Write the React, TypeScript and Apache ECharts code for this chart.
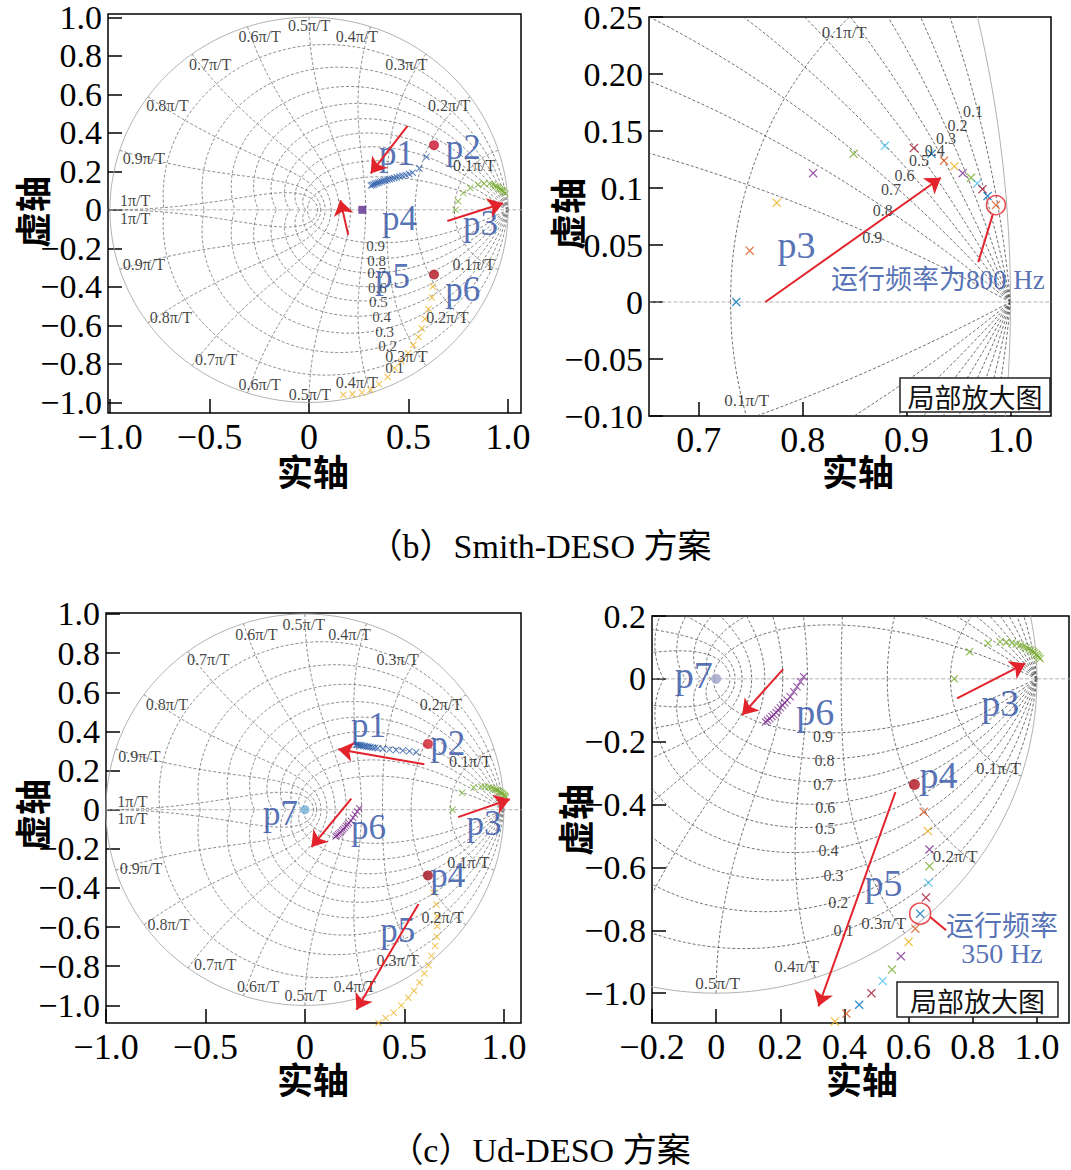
import React, { useEffect, useRef } from 'react';
import * as echarts from 'echarts';

// ---------------- data ----------------
const MATLAB_COLORS = ['#0072BD', '#D95319', '#EDB120', '#7E2F8E', '#77AC30', '#4DBEEE', '#A2142F'];

// z-grid parameters (damping ratios, natural frequencies in multiples of pi/T)
const ZETA_VALUES = [0.1, 0.2, 0.3, 0.4, 0.5, 0.6, 0.7, 0.8, 0.9];
const WN_MULTIPLES = [0.1, 0.2, 0.3, 0.4, 0.5, 0.6, 0.7, 0.8, 0.9, 1.0];

// (b) Smith-DESO
const B_P1 = [
  [0.311, 0.126], [0.318, 0.129], [0.325, 0.132], [0.332, 0.135], [0.34, 0.138], [0.348, 0.141],
  [0.356, 0.144], [0.365, 0.147], [0.374, 0.15], [0.384, 0.153], [0.394, 0.156], [0.405, 0.159],
  [0.416, 0.162], [0.428, 0.165], [0.441, 0.169], [0.455, 0.173], [0.47, 0.177], [0.486, 0.181],
  [0.503, 0.186], [0.52, 0.193], [0.554, 0.215], [0.59, 0.275],
];
const B_P2 = [[0.628, 0.336]];
const B_P3 = [
  [0.736, 0.0], [0.749, 0.045], [0.775, 0.087], [0.81, 0.113], [0.849, 0.13], [0.879, 0.137],
  [0.907, 0.135], [0.924, 0.13], [0.936, 0.124], [0.946, 0.119], [0.954, 0.113], [0.962, 0.109],
  [0.968, 0.104], [0.973, 0.099], [0.978, 0.093], [0.986, 0.085],
];
const B_P4 = [[0.268, 0.0]];
const B_P5 = [
  [0.622, -0.398], [0.617, -0.455], [0.6, -0.515], [0.583, -0.567], [0.566, -0.616], [0.55, -0.66],
  [0.524, -0.702], [0.498, -0.745], [0.464, -0.787], [0.43, -0.822], [0.395, -0.868], [0.352, -0.905],
  [0.309, -0.935], [0.266, -0.949], [0.218, -0.956], [0.172, -0.96],
];
const B_P6 = [[0.628, -0.336]];
const B_RUN_POINT = [[0.986, 0.085]];

// (c) Ud-DESO
const C_P1 = [
  [0.559, 0.294], [0.525, 0.299], [0.492, 0.302], [0.458, 0.305], [0.425, 0.307], [0.391, 0.31],
  [0.366, 0.314], [0.352, 0.316], [0.34, 0.318], [0.329, 0.32], [0.319, 0.322], [0.31, 0.323],
  [0.301, 0.325], [0.293, 0.326], [0.285, 0.328], [0.278, 0.329], [0.271, 0.33], [0.264, 0.331],
  [0.257, 0.332],
];
const C_P2 = [[0.618, 0.336]];
const C_P3 = [
  [0.742, 0.0], [0.79, 0.086], [0.848, 0.113], [0.885, 0.118], [0.905, 0.117], [0.922, 0.114],
  [0.936, 0.111], [0.948, 0.107], [0.958, 0.103], [0.967, 0.099], [0.975, 0.095], [0.982, 0.091],
  [0.988, 0.087], [0.993, 0.083], [0.998, 0.078], [1.002, 0.074], [1.006, 0.069], [1.01, 0.064],
];
const C_P4 = [[0.618, -0.336]];
const C_P5 = [
  [0.647, -0.423], [0.66, -0.484], [0.665, -0.543], [0.665, -0.596], [0.662, -0.649], [0.654, -0.696],
  [0.636, -0.747], [0.621, -0.795], [0.6, -0.837], [0.576, -0.883], [0.548, -0.925], [0.519, -0.961],
  [0.484, -1.0], [0.446, -1.037], [0.406, -1.065], [0.37, -1.09],
];
const C_P6 = [
  [0.273, 0.007], [0.263, -0.009], [0.252, -0.025], [0.242, -0.041], [0.231, -0.057], [0.221, -0.068],
  [0.214, -0.076], [0.207, -0.084], [0.2, -0.092], [0.193, -0.1], [0.187, -0.107], [0.18, -0.114],
  [0.174, -0.12], [0.167, -0.126], [0.16, -0.132], [0.154, -0.137],
];
const C_P7 = [[0.0, 0.0]];
const C_RUN_POINT = [[0.636, -0.747]];

// tick values and labels
const FULL_X_TICKS = [-1, -0.5, 0, 0.5, 1];
const FULL_X_LABELS = ['−1.0', '−0.5', '0', '0.5', '1.0'];
const FULL_Y_TICKS = [1, 0.8, 0.6, 0.4, 0.2, 0, -0.2, -0.4, -0.6, -0.8, -1];
const FULL_Y_LABELS = ['1.0', '0.8', '0.6', '0.4', '0.2', '0', '−0.2', '−0.4', '−0.6', '−0.8', '−1.0'];
const B_ZOOM_X_TICKS = [0.7, 0.8, 0.9, 1.0];
const B_ZOOM_X_LABELS = ['0.7', '0.8', '0.9', '1.0'];
const B_ZOOM_Y_TICKS = [0.25, 0.2, 0.15, 0.1, 0.05, 0, -0.05, -0.1];
const B_ZOOM_Y_LABELS = ['0.25', '0.20', '0.15', '0.1', '0.05', '0', '−0.05', '−0.10'];
const C_ZOOM_X_TICKS = [-0.2, 0, 0.2, 0.4, 0.6, 0.8, 1.0];
const C_ZOOM_X_LABELS = ['−0.2', '0', '0.2', '0.4', '0.6', '0.8', '1.0'];
const C_ZOOM_Y_TICKS = [0.2, 0, -0.2, -0.4, -0.6, -0.8, -1.0];
const C_ZOOM_Y_LABELS = ['0.2', '0', '−0.2', '−0.4', '−0.6', '−0.8', '−1.0'];

// ---------------- annotations (text, x, y in data units) ----------------
const B_WN_LABELS: [string, number, number][] = [
  ['0.5π/T', 0.0, 0.955], ['0.4π/T', 0.24, 0.9], ['0.6π/T', -0.248, 0.9], ['0.3π/T', 0.489, 0.757],
  ['0.7π/T', -0.497, 0.757], ['0.2π/T', 0.704, 0.54], ['0.8π/T', -0.711, 0.54], ['0.1π/T', 0.829, 0.232],
  ['0.9π/T', -0.83, 0.265], ['1π/T', -0.874, 0.047], ['1π/T', -0.874, -0.047], ['0.9π/T', -0.83, -0.285],
  ['0.1π/T', 0.827, -0.285], ['0.8π/T', -0.694, -0.557], ['0.2π/T', 0.695, -0.557], ['0.7π/T', -0.467, -0.779],
  ['0.3π/T', 0.489, -0.762], ['0.6π/T', -0.248, -0.906], ['0.5π/T', 0.004, -0.957], ['0.4π/T', 0.24, -0.898],
];
const B_ZETA_LABELS: [string, number, number][] = [
  ['0.9', 0.335, -0.19], ['0.8', 0.34, -0.265], ['0.7', 0.34, -0.33], ['0.6', 0.343, -0.405],
  ['0.5', 0.348, -0.478], ['0.4', 0.365, -0.558], ['0.3', 0.38, -0.632], ['0.2', 0.395, -0.705],
  ['0.1', 0.43, -0.823],
];
const B_TAGS: [string, number, number][] = [
  ['p1', 0.44, 0.29], ['p2', 0.775, 0.325], ['p4', 0.455, -0.047], ['p3', 0.862, -0.072],
  ['p5', 0.42, -0.345], ['p6', 0.772, -0.413],
];
const B_ARROWS = [[0.495, 0.436, 0.31, 0.189], [0.197, -0.13, 0.157, 0.05], [0.695, -0.058, 0.975, 0.034]];

const BZ_ZETA_LABELS: [string, number, number][] = [
  ['0.1', 0.964, 0.167], ['0.2', 0.949, 0.155], ['0.3', 0.938, 0.143], ['0.4', 0.927, 0.133],
  ['0.5', 0.912, 0.124], ['0.6', 0.898, 0.111], ['0.7', 0.885, 0.099], ['0.8', 0.877, 0.08], ['0.9', 0.867, 0.057],
];
const BZ_WN_LABELS: [string, number, number][] = [['0.1π/T', 0.84, 0.236], ['0.1π/T', 0.746, -0.086]];
const BZ_TAGS: [string, number, number][] = [['p3', 0.794, 0.05]];
const BZ_NOTE: [string, number, number][] = [['运行频率为800 Hz', 0.93, 0.019]];
const BZ_ARROWS = [[0.764, 0.0, 0.933, 0.109]];
const BZ_LINKS = [[0.969, 0.035, 0.983, 0.077]];

const C_WN_LABELS: [string, number, number][] = [
  ['0.5π/T', -0.006, 0.945], ['0.6π/T', -0.244, 0.894], ['0.4π/T', 0.224, 0.894], ['0.7π/T', -0.486, 0.766],
  ['0.3π/T', 0.466, 0.766], ['0.8π/T', -0.694, 0.535], ['0.2π/T', 0.683, 0.535], ['0.9π/T', -0.832, 0.27],
  ['0.1π/T', 0.83, 0.248], ['1π/T', -0.867, 0.043], ['1π/T', -0.867, -0.046], ['0.9π/T', -0.824, -0.303],
  ['0.1π/T', 0.822, -0.268], ['0.8π/T', -0.685, -0.585], ['0.2π/T', 0.692, -0.55], ['0.7π/T', -0.451, -0.79],
  ['0.3π/T', 0.466, -0.773], ['0.6π/T', -0.235, -0.901], ['0.5π/T', 0.004, -0.949], ['0.4π/T', 0.25, -0.901],
];
const C_TAGS: [string, number, number][] = [
  ['p1', 0.319, 0.432], ['p2', 0.718, 0.338], ['p3', 0.9, -0.072], ['p7', -0.123, -0.02],
  ['p6', 0.319, -0.089], ['p4', 0.718, -0.337], ['p5', 0.467, -0.619],
];
const C_ARROWS = [
  [0.6, 0.232, 0.167, 0.309], [0.77, -0.038, 1.03, 0.053], [0.233, 0.056, 0.033, -0.191], [0.571, -0.482, 0.259, -1.022],
];

const CZ_ZETA_LABELS: [string, number, number][] = [
  ['0.9', 0.333, -0.182], ['0.8', 0.338, -0.261], ['0.7', 0.334, -0.335], ['0.6', 0.34, -0.409],
  ['0.5', 0.34, -0.477], ['0.4', 0.35, -0.546], ['0.3', 0.366, -0.625], ['0.2', 0.381, -0.71], ['0.1', 0.397, -0.8],
];
const CZ_WN_LABELS: [string, number, number][] = [
  ['0.1π/T', 0.88, -0.284], ['0.2π/T', 0.745, -0.565], ['0.3π/T', 0.522, -0.778], ['0.4π/T', 0.251, -0.916],
  ['0.5π/T', 0.005, -0.968],
];
const CZ_TAGS: [string, number, number][] = [
  ['p7', -0.07, 0.012], ['p6', 0.309, -0.105], ['p3', 0.886, -0.078], ['p4', 0.693, -0.306], ['p5', 0.522, -0.651],
];
const CZ_NOTE: [string, number, number][] = [['运行频率', 0.891, -0.789], ['350 Hz', 0.891, -0.874]];
const CZ_ARROWS = [[0.209, 0.031, 0.081, -0.115], [0.751, -0.062, 0.964, 0.049], [0.559, -0.36, 0.319, -1.042]];
const CZ_LINKS = [[0.667, -0.758, 0.717, -0.8]];

// ---------------- helpers ----------------
const SERIF = '"Liberation Serif", "Times New Roman", serif';
const MIXED = '"Liberation Serif", "Noto Sans CJK SC", serif';
const TAG_BLUE = '#2B4EA2';
const RED = '#E3232C';
const X_SYMBOL = 'path://M0,1L1,0L5,4L9,0L10,1L6,5L10,9L9,10L5,6L1,10L0,9L4,5Z';

function zetaCurve(zeta: number, sgn: number) {
  const k = zeta / Math.sqrt(1 - zeta * zeta);
  const pts: number[][] = [];
  const N = 360;
  for (let i = 0; i <= N; i++) {
    const th = (Math.PI * i) / N;
    const r = Math.exp(-k * th);
    pts.push([r * Math.cos(th), sgn * r * Math.sin(th)]);
  }
  return pts;
}
function wnCurve(wn: number, sgn: number) {
  const pts: number[][] = [];
  const N = 200;
  for (let i = 0; i <= N; i++) {
    const z = i / N;
    const r = Math.exp(-z * wn);
    const th = wn * Math.sqrt(1 - z * z);
    pts.push([r * Math.cos(th), sgn * r * Math.sin(th)]);
  }
  return pts;
}
function unitCircle() {
  const pts: number[][] = [];
  for (let i = 0; i <= 400; i++) {
    const th = (2 * Math.PI * i) / 400;
    pts.push([Math.cos(th), Math.sin(th)]);
  }
  return pts;
}

function zgridSeries(g: number, color: string) {
  const base = {
    type: 'line', xAxisIndex: g, yAxisIndex: g, showSymbol: false, symbol: 'none',
    silent: true, clip: true, z: 1,
  };
  const dashed = { color, width: 0.8, type: [3, 2] };
  const out: any[] = [];
  for (const z of ZETA_VALUES) for (const s of [1, -1]) out.push({ ...base, data: zetaCurve(z, s), lineStyle: dashed });
  for (const w of WN_MULTIPLES) for (const s of [1, -1]) out.push({ ...base, data: wnCurve(w * Math.PI, s), lineStyle: dashed });
  out.push({ ...base, data: unitCircle(), lineStyle: { color: '#a8a8a8', width: 0.9 } });
  out.push({ ...base, data: [[-1.3, 0], [1.3, 0]], lineStyle: { color: '#a8a8a8', width: 0.9, type: [4, 2] } });
  return out;
}

function markers(g: number, pts: number[][], color: string | null, size: number, symbol = X_SYMBOL, colorOffset = 0) {
  return {
    type: 'scatter', xAxisIndex: g, yAxisIndex: g, silent: true, z: 4, symbol, symbolSize: size,
    data: pts.map((p, i) => ({
      value: p,
      itemStyle: { color: color || MATLAB_COLORS[(i + colorOffset) % MATLAB_COLORS.length] },
    })),
  };
}

function texts(g: number, items: [string, number, number][], fontSize: number, color: string, family: string) {
  return {
    type: 'scatter', xAxisIndex: g, yAxisIndex: g, silent: true, z: 5, symbolSize: 1,
    itemStyle: { color: 'rgba(0,0,0,0)' },
    data: items.map(([t, x, y]) => ({ name: t, value: [x, y] })),
    label: { show: true, position: 'inside', formatter: '{b}', fontSize, lineHeight: fontSize, color, fontFamily: family },
  };
}

function arrows(g: number, segs: number[][], head: boolean) {
  return {
    type: 'lines', coordinateSystem: 'cartesian2d', xAxisIndex: g, yAxisIndex: g, silent: true, z: 6,
    symbol: head ? ['none', 'arrow'] : ['none', 'none'], symbolSize: 15,
    lineStyle: { color: RED, width: 2, opacity: 1, curveness: 0 },
    data: segs.map((s) => ({ coords: [[s[0], s[1]], [s[2], s[3]]] })),
  };
}

function ring(g: number, pts: number[][], size: number) {
  return {
    type: 'scatter', xAxisIndex: g, yAxisIndex: g, silent: true, z: 6, symbol: 'circle', symbolSize: size,
    itemStyle: { color: 'rgba(0,0,0,0)', borderColor: RED, borderWidth: 1.6 },
    data: pts,
  };
}

function lookup(ticks: number[], labels: string[]) {
  return (v: number) => {
    for (let i = 0; i < ticks.length; i++) if (Math.abs(ticks[i] - v) < 1e-6) return labels[i];
    return '';
  };
}

function axis(g: number, min: number, max: number, ticks: number[], labels: string[], position: string, fontSize: number) {
  return {
    type: 'value', gridIndex: g, min, max, scale: true, position,
    axisLine: { show: false, onZero: false }, splitLine: { show: false },
    axisTick: { show: true, inside: true, length: 14, customValues: ticks, lineStyle: { color: '#000', width: 1.5 } },
    axisLabel: {
      customValues: ticks, formatter: lookup(ticks, labels), margin: 6,
      fontFamily: SERIF, fontSize, lineHeight: fontSize, color: '#000',
    },
  };
}

function gtext(text: string, x: number, y: number, font: string, rotation = 0, fill = '#000') {
  return {
    type: 'text', x, y, rotation, silent: true, z: 10,
    style: { text, font, fill, align: 'center', verticalAlign: 'middle', textAlign: 'center', textVerticalAlign: 'middle' },
  };
}

function legendBox(x: number, y: number, w: number, h: number) {
  return [
    { type: 'rect', shape: { x, y, width: w, height: h }, style: { fill: '#fff', stroke: '#222', lineWidth: 1.5 }, z: 20, silent: true },
    {
      type: 'text', x: x + w / 2, y: y + h / 2 + 1, z: 21, silent: true,
      style: { text: '局部放大图', font: '27px "Noto Sans CJK SC"', fill: '#111', align: 'center', verticalAlign: 'middle', textAlign: 'center', textVerticalAlign: 'middle' },
    },
  ];
}

export default function App() {
  const ref = useRef<HTMLDivElement>(null);
  useEffect(() => {
    document.body.style.margin = '0';
    const chart = echarts.init(ref.current!, null, { renderer: 'svg' });
    const gridStyle = { show: true, borderColor: '#000', borderWidth: 1.5, backgroundColor: 'transparent' };
    const AXIS_FONT = 'bold 36px "Noto Sans CJK SC"';
    const CAPTION_FONT = '34px "Liberation Serif", "Noto Sans CJK SC"';
    const option: any = {
      animation: false,
      backgroundColor: '#fff',
      grid: [
        { left: 108, top: 14, width: 413, height: 399, ...gridStyle },
        { left: 649, top: 17, width: 402, height: 399, ...gridStyle },
        { left: 106, top: 613, width: 415, height: 410, ...gridStyle },
        { left: 652, top: 616, width: 417, height: 407, ...gridStyle },
      ],
      xAxis: [
        axis(0, -1.01, 1.065, FULL_X_TICKS, FULL_X_LABELS, 'bottom', 36),
        axis(1, 0.652, 1.039, B_ZOOM_X_TICKS, B_ZOOM_X_LABELS, 'bottom', 36),
        axis(2, -1.0, 1.086, FULL_X_TICKS, FULL_X_LABELS, 'bottom', 36),
        axis(3, -0.2, 1.1, C_ZOOM_X_TICKS, C_ZOOM_X_LABELS, 'bottom', 36),
      ],
      yAxis: [
        axis(0, -1.055, 1.017, FULL_Y_TICKS, FULL_Y_LABELS, 'left', 34),
        axis(1, -0.1, 0.25, B_ZOOM_Y_TICKS, B_ZOOM_Y_LABELS, 'left', 34),
        axis(2, -1.09, 1.005, FULL_Y_TICKS, FULL_Y_LABELS, 'left', 34),
        axis(3, -1.095, 0.2, C_ZOOM_Y_TICKS, C_ZOOM_Y_LABELS, 'left', 34),
      ],
      series: [
        // ---- (b) full view ----
        ...zgridSeries(0, '#6a6a6a'),
        markers(0, B_P1, '#2A5CAA', 7),
        markers(0, B_P3, '#77AC30', 7),
        markers(0, B_P5, '#EDB120', 7),
        markers(0, B_P2, '#C8102E', 10, 'circle'),
        markers(0, B_P6, '#B0101E', 10, 'circle'),
        markers(0, B_P4, '#5B2C8F', 8, 'rect'),
        arrows(0, B_ARROWS, true),
        texts(0, B_WN_LABELS, 16, '#111', SERIF),
        texts(0, B_ZETA_LABELS, 15, '#111', SERIF),
        texts(0, B_TAGS, 35, TAG_BLUE, SERIF),
        // ---- (b) zoom ----
        ...zgridSeries(1, '#4a4a4a'),
        markers(1, B_P3, null, 9),
        ring(1, B_RUN_POINT, 19),
        arrows(1, BZ_ARROWS, true),
        arrows(1, BZ_LINKS, false),
        texts(1, BZ_ZETA_LABELS, 16, '#111', SERIF),
        texts(1, BZ_WN_LABELS, 17, '#111', SERIF),
        texts(1, BZ_TAGS, 38, TAG_BLUE, SERIF),
        texts(1, BZ_NOTE, 27, TAG_BLUE, MIXED),
        // ---- (c) full view ----
        ...zgridSeries(2, '#6a6a6a'),
        markers(2, C_P1, '#2A5CAA', 7),
        markers(2, C_P3, '#77AC30', 7),
        markers(2, C_P5, '#EDB120', 7),
        markers(2, C_P6, '#7E2F8E', 7),
        markers(2, C_P2, '#D01C2C', 10, 'circle'),
        markers(2, C_P4, '#A50F1E', 10, 'circle'),
        markers(2, C_P7, '#6FAFD8', 9, 'circle'),
        arrows(2, C_ARROWS, true),
        texts(2, C_WN_LABELS, 16, '#111', SERIF),
        texts(2, C_TAGS, 35, TAG_BLUE, SERIF),
        // ---- (c) zoom ----
        ...zgridSeries(3, '#4a4a4a'),
        markers(3, C_P3, '#77AC30', 8),
        markers(3, C_P6, '#7E2F8E', 8),
        markers(3, C_P5, null, 9, X_SYMBOL, 1),
        markers(3, C_P4, '#B0101E', 11, 'circle'),
        markers(3, C_P7, '#A0A0C8', 10, 'circle'),
        ring(3, C_RUN_POINT, 21),
        arrows(3, CZ_ARROWS, true),
        arrows(3, CZ_LINKS, false),
        texts(3, CZ_ZETA_LABELS, 16, '#111', SERIF),
        texts(3, CZ_WN_LABELS, 17, '#111', SERIF),
        texts(3, CZ_TAGS, 38, TAG_BLUE, SERIF),
        texts(3, CZ_NOTE, 28, TAG_BLUE, MIXED),
      ],
      graphic: [
        gtext('实轴', 313, 470, AXIS_FONT),
        gtext('实轴', 858, 470, AXIS_FONT),
        gtext('实轴', 313, 1078, AXIS_FONT),
        gtext('实轴', 862, 1078, AXIS_FONT),
        gtext('虚轴', 31, 212, AXIS_FONT, Math.PI / 2),
        gtext('虚轴', 566, 214, AXIS_FONT, Math.PI / 2),
        gtext('虚轴', 31, 815, AXIS_FONT, Math.PI / 2),
        gtext('虚轴', 574, 820, AXIS_FONT, Math.PI / 2),
        gtext('（b）Smith-DESO 方案', 540, 546, CAPTION_FONT),
        gtext('（c）Ud-DESO 方案', 540, 1150, CAPTION_FONT),
        ...legendBox(900, 378, 150, 34),
        ...legendBox(897, 982, 161, 35),
      ],
    };
    chart.setOption(option);
    return () => chart.dispose();
  }, []);
  return <div ref={ref} style={{ width: 1071, height: 1170 }} />;
}
